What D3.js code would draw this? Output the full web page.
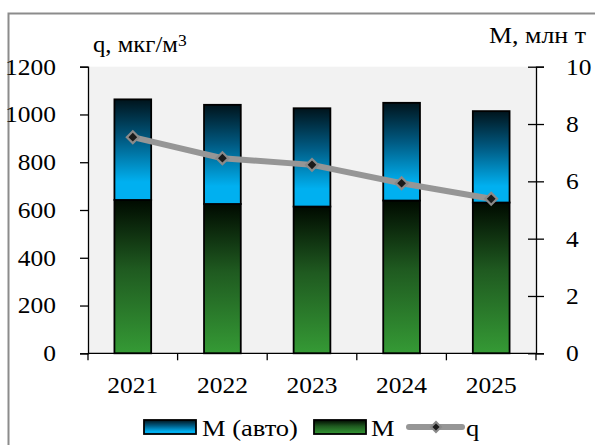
<!DOCTYPE html>
<html><head><meta charset="utf-8">
<script src="https://cdn.jsdelivr.net/npm/d3@7/dist/d3.min.js"></script>
<style>body{margin:0;background:#fff}svg{display:block}</style>
</head><body><svg id="c" width="595" height="445"></svg>
<script>
const years = ["2021","2022","2023","2024","2025"];
const mBase = [5.35, 5.21, 5.12, 5.33, 5.26];       // M, млн т (green)
const mAuto = [3.51, 3.46, 3.43, 3.41, 3.19];       // M (авто) increment on top (blue)
const qVals = [905, 817, 789, 712, 647];             // q, мкг/м3
const leftTicks = [0,200,400,600,800,1000,1200];
const rightTicks = [0,2,4,6,8,10];

const FF = '"Liberation Serif", "Times New Roman", serif';
const svg = d3.select("#c");
const L = 88, R = 536, T = 66.7, B = 353.3;
const fs = "23px";
function txt(sel, size){ return sel.style("font-family", FF).style("font-size", size).attr("fill","#000"); }
function stretch(sel, sx){
  sel.each(function(){
    const t = d3.select(this);
    const x0 = +(t.attr("x") || 0);
    t.attr("x", x0/sx).attr("transform", `scale(${sx},1)`);
  });
}
function factor(node, target){ return target / node.getComputedTextLength(); }

const defs = svg.append("defs");
const gb = defs.append("linearGradient").attr("id","gBlue").attr("x1",0).attr("y1",0).attr("x2",0).attr("y2",1);
gb.append("stop").attr("offset","0%").attr("stop-color","#00141c");
gb.append("stop").attr("offset","40%").attr("stop-color","#005a82");
gb.append("stop").attr("offset","82%").attr("stop-color","#00b0f0");
gb.append("stop").attr("offset","100%").attr("stop-color","#00b0f0");
const gg = defs.append("linearGradient").attr("id","gGreen").attr("x1",0).attr("y1",0).attr("x2",0).attr("y2",1);
gg.append("stop").attr("offset","0%").attr("stop-color","#000a00");
gg.append("stop").attr("offset","45%").attr("stop-color","#1f5a20");
gg.append("stop").attr("offset","100%").attr("stop-color","#359a35");

// outer border
svg.append("rect").attr("x",8.5).attr("y",13.5).attr("width",600).attr("height",450)
  .attr("fill","none").attr("stroke","#8c8c8c").attr("stroke-width",2);

svg.append("rect").attr("x",L).attr("y",T).attr("width",R-L).attr("height",B-T).attr("fill","#f2f2f2");

const x = d3.scaleBand().domain(years).range([L,R]).paddingInner(0.59).paddingOuter(0.295);
const yL = d3.scaleLinear().domain([0,1200]).range([B,T]);
const yR = d3.scaleLinear().domain([0,10]).range([B,T]);

// bars
years.forEach((yr,i)=>{
  const bx = x(yr), bw = x.bandwidth();
  svg.append("rect").attr("x",bx).attr("y",yR(mBase[i])).attr("width",bw).attr("height",yR(0)-yR(mBase[i]))
    .attr("fill","url(#gGreen)").attr("stroke","#000").attr("stroke-width",1.8);
  svg.append("rect").attr("x",bx).attr("y",yR(mBase[i]+mAuto[i])).attr("width",bw).attr("height",yR(mBase[i])-yR(mBase[i]+mAuto[i]))
    .attr("fill","url(#gBlue)").attr("stroke","#000").attr("stroke-width",1.8);
});

// axes
const fmt = d3.format("d");
const axL = svg.append("g").attr("transform",`translate(${L},0)`).call(d3.axisLeft(yL).tickValues(leftTicks).tickFormat(fmt).tickSize(8).tickPadding(24));
const axR = svg.append("g").attr("transform",`translate(${R},0)`).call(d3.axisRight(yR).tickValues(rightTicks).tickFormat(fmt).tickSize(8).tickPadding(22));
axR.selectAll(".tick line").attr("x1",-8);
const axB = svg.append("g").attr("transform",`translate(0,${B})`).call(d3.axisBottom(x).tickSize(0).tickPadding(23));
[axL,axR,axB].forEach(a=>{
  a.attr("font-size",null).attr("font-family",null);
  a.select(".domain").attr("stroke","#000").attr("stroke-width",1.3);
  a.selectAll(".tick line").attr("stroke","#000").attr("stroke-width",1.3);
  txt(a.selectAll("text"), fs);
});
const tickSX = factor(axL.selectAll("text").filter(d=>d===1200).node(), 51);
[axL,axR,axB].forEach(a=>stretch(a.selectAll("text"), tickSX));
axB.select(".domain").attr("d",`M${L},0H${R}`);
const step = (R-L)/years.length;
d3.range(years.length+1).forEach(k=>{
  svg.append("line").attr("x1",L+k*step).attr("x2",L+k*step).attr("y1",B).attr("y2",B+7).attr("stroke","#000").attr("stroke-width",1.3);
});

// line q
const line = d3.line().x((d,i)=>x(years[i])+x.bandwidth()/2).y(d=>yL(d));
svg.append("path").datum(qVals).attr("d",line).attr("fill","none").attr("stroke","#969696").attr("stroke-width",6);
qVals.forEach((v,i)=>{
  svg.append("path").attr("d",d3.symbol().type(d3.symbolSquare).size(70)())
    .attr("transform",`translate(${x(years[i])+x.bandwidth()/2},${yL(v)}) rotate(45)`)
    .attr("fill","#1a1a1a").attr("stroke","#8a8a8a").attr("stroke-width",2.2);
});

// axis titles
const tq = txt(svg.append("text").attr("x",93).attr("y",52), "24px");
const tq1 = tq.append("tspan").text("q, мкг/м");
tq.append("tspan").attr("dy",-6).style("font-size","17px").text("3");
const tqSX = 85 / tq1.node().getComputedTextLength();
const tm = txt(svg.append("text").attr("x",586).attr("y",43).attr("text-anchor","end"), "24px").text("M, млн т");
const tmSX = factor(tm.node(), 97);

// legend
const ly = 420;
svg.append("rect").attr("x",144).attr("y",ly).attr("width",52).attr("height",14).attr("fill","url(#gBlue)").attr("stroke","#000").attr("stroke-width",1.8);
const l1 = txt(svg.append("text").attr("x",202).attr("y",ly+16), fs).text("M (авто)");
svg.append("rect").attr("x",314).attr("y",ly).attr("width",52).attr("height",14).attr("fill","url(#gGreen)").attr("stroke","#000").attr("stroke-width",1.8);
const l2 = txt(svg.append("text").attr("x",371).attr("y",ly+16), fs).text("M");
svg.append("line").attr("x1",409).attr("x2",462).attr("y1",ly+7).attr("y2",ly+7).attr("stroke","#969696").attr("stroke-width",6).attr("stroke-linecap","round");
svg.append("path").attr("d",d3.symbol().type(d3.symbolSquare).size(50)())
  .attr("transform",`translate(436,${ly+7}) rotate(45)`).attr("fill","#1a1a1a").attr("stroke","#8a8a8a").attr("stroke-width",2);
const l3 = txt(svg.append("text").attr("x",466).attr("y",ly+16), fs).text("q");
const legSX = factor(l1.node(), 96);
stretch(tq, tqSX); stretch(tm, tmSX);
[l1,l2,l3].forEach(s=>stretch(s, legSX));
</script></body></html>
